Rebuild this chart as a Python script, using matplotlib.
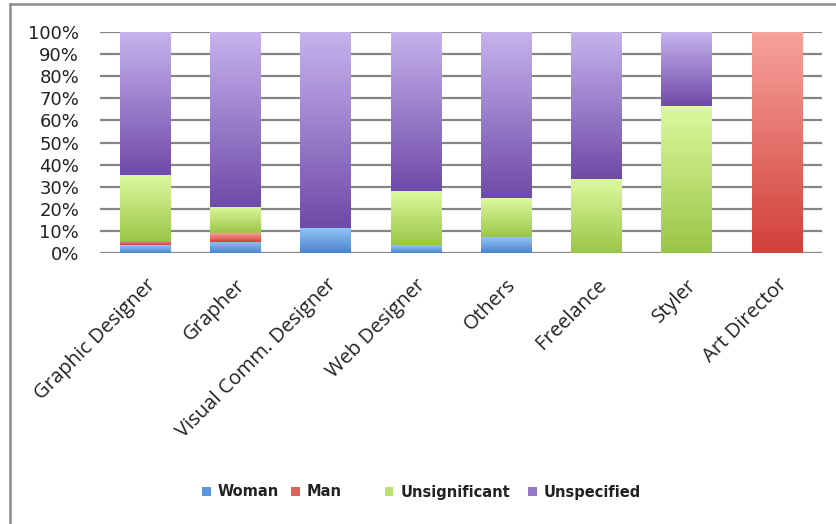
import numpy as np
import matplotlib
matplotlib.use("Agg")
import matplotlib.pyplot as plt
from matplotlib.colors import LinearSegmentedColormap
from matplotlib.lines import Line2D
import matplotlib.transforms as mtransforms

categories = ["Graphic Designer", "Grapher", "Visual Comm. Designer", "Web Designer",
              "Others", "Freelance", "Styler", "Art Director"]
woman = [3.5, 5.0, 11.3, 3.6, 7.2, 0.0, 0.0, 0.0]
man = [2.0, 4.0, 0.0, 0.0, 0.0, 0.0, 0.0, 100.0]
unsignificant = [29.8, 12.0, 0.0, 24.4, 17.6, 33.3, 66.7, 0.0]
unspecified = [64.7, 79.0, 88.7, 72.0, 75.2, 66.7, 33.3, 0.0]
series_names = ["Woman", "Man", "Unsignificant", "Unspecified"]
yticks = [0, 10, 20, 30, 40, 50, 60, 70, 80, 90, 100]
ytick_labels = ["0%", "10%", "20%", "30%", "40%", "50%", "60%", "70%", "80%", "90%", "100%"]

# gradient (top color, bottom color) per series
grad = {
    "Woman": ("#93c4f5", "#4a84cc"),
    "Man": ("#f7a29c", "#d2403a"),
    "Unsignificant": ("#def9a0", "#9ac647"),
    "Unspecified": ("#c7b3ee", "#6f4aa8"),
}
mid = {"Woman": "#5d95dc", "Man": "#e0605a", "Unsignificant": "#b8e070", "Unspecified": "#9478c8"}

W, H = 836, 524
fig = plt.figure(figsize=(W / 100, H / 100), dpi=100)
fig.patch.set_facecolor("white")
ax = fig.add_axes([100 / W, 1 - 253 / H, 722 / W, 221 / H])

x = np.arange(len(categories))
bottom = np.zeros(len(categories))
handles = []
data = [woman, man, unsignificant, unspecified]
for name, vals in zip(series_names, data):
    vals = np.array(vals, dtype=float)
    bars = ax.bar(x, vals, width=0.56, bottom=bottom, color=mid[name],
                  edgecolor="none", zorder=3, label=name)
    cmap = LinearSegmentedColormap.from_list(name, [grad[name][1], grad[name][0]])
    g = np.linspace(0, 1, 256).reshape(-1, 1)
    for p, v in zip(bars.patches, vals):
        if v <= 0:
            continue
        x0, y0 = p.get_x(), p.get_y()
        w, h = p.get_width(), p.get_height()
        im = ax.imshow(g, cmap=cmap, origin="lower", aspect="auto",
                       extent=[x0, x0 + w, y0, y0 + h], zorder=4,
                       interpolation="bilinear")
        im.set_clip_path(p)
    handles.append(bars)
    bottom = bottom + vals

ax.set_xlim(-0.5, len(categories) - 0.5)
ax.set_ylim(0, 100)
ax.set_yticks(yticks)
ax.set_yticklabels(ytick_labels, fontsize=13, color="#222222", family="DejaVu Sans")
ax.yaxis.grid(True, color="#858585", linewidth=1.6, zorder=0)
ax.set_axisbelow(True)
for s in ax.spines.values():
    s.set_visible(False)
ax.tick_params(axis="y", length=0, pad=15)
ax.tick_params(axis="x", length=0, pad=0)
ax.set_xticks(x)
ax.set_xticklabels(categories, rotation=45, ha="right", va="top",
                   rotation_mode="anchor", fontsize=14.5, family="Open Sans", color="#222222")
offset = mtransforms.ScaledTranslation(0 / 100, -22 / 100, fig.dpi_scale_trans)
for lab in ax.get_xticklabels():
    lab.set_transform(lab.get_transform() + offset)

# legends
leg1 = fig.legend(handles[:2], series_names[:2], loc="center",
                  bbox_to_anchor=(272 / W, 1 - 492 / H), ncol=2, frameon=False,
                  prop={"family": "DejaVu Sans", "size": 10.5, "weight": "bold"},
                  handlelength=0.6, handleheight=0.6, handletextpad=0.5,
                  columnspacing=0.8, labelcolor="#222222")
leg2 = fig.legend(handles[2:], series_names[2:], loc="center",
                  bbox_to_anchor=(513 / W, 1 - 492 / H), ncol=2, frameon=False,
                  prop={"family": "DejaVu Sans", "size": 10.5, "weight": "bold"},
                  handlelength=0.6, handleheight=0.6, handletextpad=0.5,
                  columnspacing=1.2, labelcolor="#222222")

# outer frame (left and top)
fig.add_artist(Line2D([10 / W, 10 / W], [0, 1 - 4 / H], transform=fig.transFigure,
                      color="#8c8c8c", linewidth=1.8))
fig.add_artist(Line2D([10 / W, 1], [1 - 4 / H, 1 - 4 / H], transform=fig.transFigure,
                      color="#8c8c8c", linewidth=1.8))

fig.savefig("out.png", dpi=100)
